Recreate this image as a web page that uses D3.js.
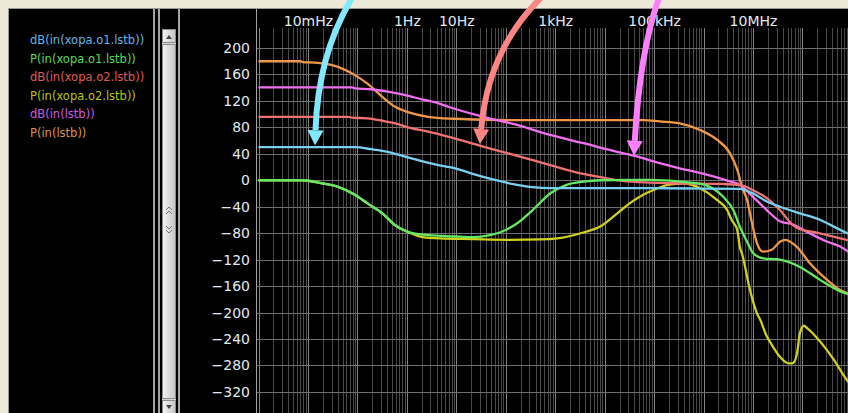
<!DOCTYPE html>
<html>
<head>
<meta charset="utf-8">
<script src="https://cdn.jsdelivr.net/npm/d3@7"></script>
<style>
  body { margin: 0; background: #ece9d8; }
  svg { display: block; }
</style>
</head>
<body>
<div id="chart"></div>
<script>
// Size of the window and of the plot region
const WIDTH = 848;
const HEIGHT = 413;
const PLOT_LEFT = 258.5;
const DECADE_PX = 49.45;
const PLOT_TOP = 28;

// Frequency tick labels (top axis)
const freqTickValues = [1e-2, 1, 10, 1e3, 1e5, 1e7];
const freqTickLabels = ["10mHz", "1Hz", "10Hz", "1kHz", "100kHz", "10MHz"];

// Value ticks (left axis)
const valueTicks = [200, 160, 120, 80, 40, 0, -40, -80, -120, -160, -200, -240, -280, -320];

// Legend names
const traceNames = [
  "dB(in(xopa.o1.lstb))",
  "P(in(xopa.o1.lstb))",
  "dB(in(xopa.o2.lstb))",
  "P(in(xopa.o2.lstb))",
  "dB(in(lstb))",
  "P(in(lstb))",
];

// Series, [frequency in Hz, value]
const dbO1 = [
  [1e-3, 50], [8.9e-2, 50], [0.19, 47], [0.41, 43], [0.89, 36], [2, 29], [4.4, 23],
  [7.4, 19.7], [35, 5], [170, -7], [350, -10.5], [790, -12], [8.3e4, -12], [5.4e6, -13],
  [1e7, -20], [1.9e7, -32], [3.5e7, -40], [8.9e7, -50], [2.3e8, -60], [5.8e8, -75], [1e9, -83],
];
const phaseO1 = [
  [1e-3, 0], [7.6e-3, 0], [1.9e-2, -4.5], [4.1e-2, -10], [8.9e-2, -22], [0.16, -35],
  [0.32, -50], [0.58, -68], [1.05, -78], [2.7, -83], [9.3, -85], [22, -86], [48, -83],
  [76, -79], [170, -65], [350, -45], [790, -20], [1.7e3, -7], [3.7e3, -2], [8.1e3, 0],
  [8.3e4, 0.5], [5.4e5, -3.5], [1.2e6, -8.5], [2.5e6, -25], [4e6, -45], [5.4e6, -70],
  [7.6e6, -93], [1e7, -110], [1.6e7, -118], [3.5e7, -120], [8.9e7, -131], [2.3e8, -151],
  [5.8e8, -168], [1e9, -174],
];
const dbO2 = [
  [1e-3, 96], [6.5e-2, 96], [7.8e-2, 94.6], [0.16, 93.7], [0.32, 90], [0.58, 86],
  [1.05, 80], [2.7, 73.5], [6.8, 66], [35, 51], [170, 37], [790, 23], [3.7e3, 9.5],
  [1.1e4, 3], [2.3e4, -1], [8.3e4, -3.6], [2.4e5, -4.5], [2.5e6, -5.6], [5.4e6, -7],
  [1e7, -15], [1.9e7, -27], [3.5e7, -45], [6.5e7, -68], [8.9e7, -74], [1.66e8, -78],
  [3.2e8, -83], [5.8e8, -88], [1e9, -92],
];
const phaseO2 = [
  [1e-3, 0], [7.6e-3, 0], [1.9e-2, -4.5], [4.1e-2, -10], [8.9e-2, -22], [0.16, -35],
  [0.32, -50], [0.58, -68], [1.05, -78], [2.1, -86], [4.7, -88], [22, -89], [100, -90],
  [500, -89.5], [1.1e3, -88], [3.7e3, -79], [8.1e3, -70], [1.8e4, -50], [3.2e4, -35],
  [6e4, -22], [8.3e4, -17], [1.9e5, -7], [4e5, -4.5], [8.5e5, -12], [1.9e6, -30],
  [3e6, -45], [3.7e6, -60], [4.8e6, -75], [5.4e6, -100], [6.2e6, -115], [8.5e6, -163],
  [1.2e7, -201], [1.4e7, -211], [1.9e7, -236], [2.5e7, -251], [3.5e7, -267],
  [4.8e7, -276], [5.5e7, -277], [6.5e7, -276], [7.8e7, -261], [8.9e7, -231],
  [1.07e8, -220], [1.26e8, -224], [1.95e8, -238], [4.2e8, -270], [7.9e8, -302], [1e9, -312],
];
const dbLstb = [
  [1e-3, 140.6], [7.8e-2, 140.6], [8.9e-2, 139], [0.19, 137.6], [0.41, 134], [0.89, 129],
  [2, 122.4], [4.4, 116.4], [7.4, 110.4], [35, 96], [170, 83.6], [790, 68.5], [3.7e3, 56],
  [1.8e4, 43], [4.5e4, 36], [8.3e4, 30], [2.4e5, 20.6], [1.2e6, 8], [3e6, -0.6],
  [5.4e6, -7], [1e7, -25], [1.9e7, -45], [3.5e7, -62], [6.5e7, -67], [1.23e8, -78],
  [3.2e8, -93], [5.8e8, -100], [1e9, -112],
];
const phaseLstb = [
  [1e-3, 180], [6.9e-3, 180], [7.9e-3, 178.8], [1.4e-2, 178], [3.1e-2, 174], [8.9e-2, 159],
  [0.16, 146], [0.32, 126], [0.58, 111], [1.05, 103], [2.7, 96], [9.3, 93], [100, 91],
  [6e4, 91], [1.3e5, 89], [3.3e5, 86], [8.5e5, 76], [1.9e6, 61], [3.4e6, 41], [4.8e6, 16],
  [6e6, -10], [7.6e6, -30], [9.5e6, -64], [1.2e7, -95], [1.6e7, -108], [2.4e7, -105],
  [3.5e7, -93], [4.5e7, -90], [7.8e7, -101], [1.4e8, -125], [3.2e8, -151], [5.8e8, -166],
  [1e9, -173],
];

// Colours of the traces and of the legend entries
const lineColors = ["#78d0f0", "#62e862", "#f07272", "#cfcf1e", "#f070f0", "#f09848"];
const legendColors = ["#62b6e8", "#52dc52", "#e05a55", "#b8c40c", "#d05ae6", "#dc9448"];

// Annotation arrows: start, control and tip as [frequency, value]
const arrowColors = ["#80e8ff", "#ff8484", "#ff80ff"];
const arrowPaths = [
  [[7.8e-2, 276], [1.6e-2, 190], [1.39e-2, 53]],
  [[516, 276], [43.7, 197], [30, 55]],
  [[1.26e5, 276], [5.2e4, 197], [3.9e4, 37]],
];

const traces = [dbO1, phaseO1, dbO2, phaseO2, dbLstb, phaseLstb].map((data, i) => ({
  name: traceNames[i],
  data,
  color: lineColors[i],
  legendColor: legendColors[i],
}));

// Scales
const x = d3
  .scaleLog()
  .domain([1e-3, 1e9])
  .range([PLOT_LEFT, PLOT_LEFT + 12 * DECADE_PX]);
const y = d3.scaleLinear().domain([-320, 200]).range([391.9, 48]);

const svg = d3
  .select("#chart")
  .append("svg")
  .attr("width", WIDTH)
  .attr("height", HEIGHT)
  .style("font-family", "'DejaVu Sans', Verdana, sans-serif");

// Window frame
svg.append("rect").attr("width", WIDTH).attr("height", HEIGHT).attr("fill", "#ece9d8");
svg.append("rect").attr("x", 8).attr("y", 8).attr("width", WIDTH - 8).attr("height", HEIGHT - 8).attr("fill", "#9c9a94");
svg.append("rect").attr("x", 9).attr("y", 9).attr("width", WIDTH - 9).attr("height", HEIGHT - 9).attr("fill", "#000");

// Panel separators
[153, 158, 178].forEach((sx) => {
  svg.append("rect").attr("x", sx).attr("y", 9).attr("width", 2).attr("height", HEIGHT - 9).attr("fill", "#a4a4a4");
});

// Scrollbar
const scroll = svg.append("g");
const thumbGrad = svg.append("defs").append("linearGradient").attr("id", "thumb");
thumbGrad.append("stop").attr("offset", "0%").attr("stop-color", "#f4f4f4");
thumbGrad.append("stop").attr("offset", "100%").attr("stop-color", "#c4c4c4");
scroll.append("rect").attr("x", 162).attr("y", 29).attr("width", 14).attr("height", 384).attr("fill", "#d6d6d6");
scroll.append("rect").attr("x", 162.5).attr("y", 29.5).attr("width", 13).attr("height", 13).attr("fill", "url(#thumb)").attr("stroke", "#8c8c8c");
scroll.append("path").attr("d", "M166,39 L169,35 L172,39 Z").attr("fill", "#444");
scroll.append("rect").attr("x", 162.5).attr("y", 44.5).attr("width", 13).attr("height", 354).attr("fill", "url(#thumb)").attr("stroke", "#8c8c8c");
scroll.append("rect").attr("x", 162.5).attr("y", 400.5).attr("width", 13).attr("height", 13).attr("fill", "url(#thumb)").attr("stroke", "#8c8c8c");
scroll.append("path").attr("d", "M166,405 L169,409 L172,405 Z").attr("fill", "#444");
[207, 211].forEach((gy) => {
  scroll.append("path").attr("d", `M166,${gy + 3} L169,${gy} L172,${gy + 3}`).attr("fill", "none").attr("stroke", "#777");
});
[226, 230].forEach((gy) => {
  scroll.append("path").attr("d", `M166,${gy} L169,${gy + 3} L172,${gy}`).attr("fill", "none").attr("stroke", "#777");
});

// Legend
svg
  .append("g")
  .selectAll("text")
  .data(traces)
  .join("text")
  .attr("x", 30)
  .attr("y", (d, i) => 44 + i * 18.5)
  .attr("font-size", 11.5)
  .attr("fill", (d) => d.legendColor)
  .text((d) => d.name);

// Grid
const grid = svg.append("g");
const minorFreqs = [];
for (let d = -3; d < 9; d++) {
  for (let k = 1; k <= 9; k++) minorFreqs.push({ f: k * Math.pow(10, d), major: k === 1 });
}
grid
  .selectAll(".vgrid")
  .data(minorFreqs)
  .join("line")
  .attr("class", "vgrid")
  .attr("x1", (d) => Math.round(x(d.f)) + 0.5)
  .attr("x2", (d) => Math.round(x(d.f)) + 0.5)
  .attr("y1", PLOT_TOP)
  .attr("y2", HEIGHT)
  .attr("stroke", (d) => (d.major ? "#808080" : "#4a4a4a"));
grid
  .selectAll(".hgrid")
  .data(valueTicks)
  .join("line")
  .attr("class", "hgrid")
  .attr("x1", 257)
  .attr("x2", WIDTH)
  .attr("y1", (d) => Math.round(y(d)) + 0.5)
  .attr("y2", (d) => Math.round(y(d)) + 0.5)
  .attr("stroke", "#707070");

// Left axis line
svg.append("line").attr("x1", 256.5).attr("x2", 256.5).attr("y1", 9).attr("y2", HEIGHT).attr("stroke", "#a0a0a0");

// Axes labels
const xAxis = svg
  .append("g")
  .attr("transform", "translate(0,26)")
  .call(
    d3
      .axisTop(x)
      .tickValues(freqTickValues)
      .tickFormat((d, i) => freqTickLabels[i])
      .tickSize(0)
      .tickPadding(0)
  );
const yAxis = svg
  .append("g")
  .attr("transform", "translate(250,0)")
  .call(d3.axisLeft(y).tickValues(valueTicks).tickSize(0).tickPadding(0));
[xAxis, yAxis].forEach((ax) => {
  ax.select(".domain").remove();
  ax.selectAll("text")
    .attr("fill", "#e2eaf0")
    .attr("font-size", 14)
    .attr("font-family", "'DejaVu Sans', Verdana, sans-serif");
});

// Traces
svg
  .append("clipPath")
  .attr("id", "plotClip")
  .append("rect")
  .attr("x", 257)
  .attr("y", PLOT_TOP)
  .attr("width", WIDTH - 257)
  .attr("height", HEIGHT - PLOT_TOP);

const line = d3
  .line()
  .x((d) => x(d[0]))
  .y((d) => y(d[1]))
  .curve(d3.curveMonotoneX);

const drawOrder = [5, 4, 3, 2, 1, 0];
svg
  .append("g")
  .attr("clip-path", "url(#plotClip)")
  .selectAll("path")
  .data(drawOrder.map((i) => traces[i]))
  .join("path")
  .attr("d", (d) => line(d.data))
  .attr("fill", "none")
  .attr("stroke", (d) => d.color)
  .attr("stroke-width", 2.3);

// Arrows
const HEAD_LEN = 15;
const HEAD_HALF = 8;
arrowPaths.forEach((pts, i) => {
  const [p0, p1, p2] = pts.map((p) => [x(p[0]), y(p[1])]);
  const dx = p2[0] - p1[0];
  const dy = p2[1] - p1[1];
  const len = Math.hypot(dx, dy);
  const ux = dx / len;
  const uy = dy / len;
  const base = [p2[0] - ux * HEAD_LEN, p2[1] - uy * HEAD_LEN];
  svg
    .append("path")
    .attr("d", `M${p0[0]},${p0[1]} Q${p1[0]},${p1[1]} ${base[0]},${base[1]}`)
    .attr("fill", "none")
    .attr("stroke", arrowColors[i])
    .attr("stroke-width", 6);
  svg
    .append("path")
    .attr(
      "d",
      `M${p2[0]},${p2[1]} L${base[0] - uy * HEAD_HALF},${base[1] + ux * HEAD_HALF} L${base[0] + uy * HEAD_HALF},${base[1] - ux * HEAD_HALF} Z`
    )
    .attr("fill", arrowColors[i]);
});
</script>
</body>
</html>
